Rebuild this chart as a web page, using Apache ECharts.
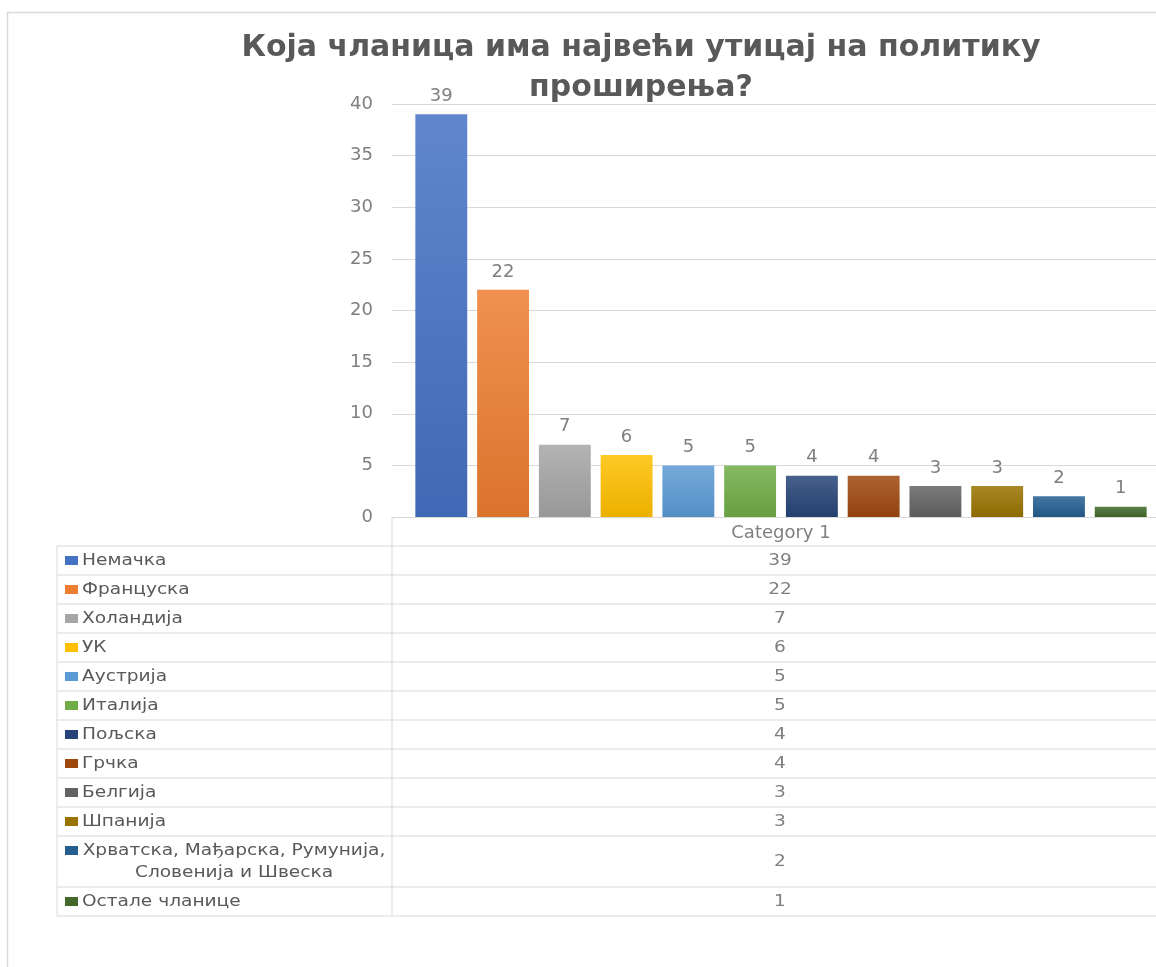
<!DOCTYPE html>
<html>
<head>
<meta charset="utf-8">
<script src="https://cdn.jsdelivr.net/npm/echarts@6/dist/echarts.min.js"></script>
<style>
  html, body { margin: 0; padding: 0; background: #ffffff; overflow: hidden; }
  #chart { width: 1200px; height: 967px; }
</style>
</head>
<body>
<div id="chart"></div>
<script>
// ---- data ----
const categories = ['Category 1'];
const seriesNames = [
  'Немачка', 'Француска', 'Холандија', 'УК', 'Аустрија', 'Италија',
  'Пољска', 'Грчка', 'Белгија', 'Шпанија',
  'Хрватска, Мађарска, Румунија,\nСловенија и Швеска', 'Остале чланице'
];
const values = [39, 22, 7, 6, 5, 5, 4, 4, 3, 3, 2, 1];
const titleLines = ['Која чланица има највећи утицај на политику', 'проширења?'];
const yTicks = [0, 5, 10, 15, 20, 25, 30, 35, 40];

// ---- palette ----
const palette = ['#4472C4', '#ED7D31', '#A5A5A5', '#FFC000', '#5B9BD5', '#70AD47',
                 '#264478', '#9E480E', '#636363', '#997300', '#255E91', '#43682B'];

function mix(hex, target, t) {
  const a = parseInt(hex.slice(1), 16), b = parseInt(target.slice(1), 16);
  const r = Math.round(((a >> 16) & 255) * (1 - t) + ((b >> 16) & 255) * t);
  const g = Math.round(((a >> 8) & 255) * (1 - t) + ((b >> 8) & 255) * t);
  const bl = Math.round((a & 255) * (1 - t) + (b & 255) * t);
  return 'rgb(' + r + ',' + g + ',' + bl + ')';
}

const FONT = 'DejaVu Sans';
const textColor = '#595959';
const axisColor = '#7f7f7f';
const lineColor = '#d9d9d9';
const SX = 1.16; // horizontal text stretch of the table text

const chart = echarts.init(document.getElementById('chart'));

const gridLeft = 392, gridTop = 104, gridHeight = 413, gridWidth = 778;

const series = seriesNames.map((name, i) => ({
  name: name,
  type: 'bar',
  data: [values[i]],
  barGap: '19%',
  barCategoryGap: '6%',
  itemStyle: {
    color: new echarts.graphic.LinearGradient(0, 0, 0, 1, [
      { offset: 0, color: mix(palette[i], '#ffffff', 0.15) },
      { offset: 1, color: mix(palette[i], '#000000', 0.08) }
    ])
  },
  label: {
    show: true,
    position: 'top',
    distance: 9,
    color: axisColor,
    fontFamily: FONT,
    fontSize: 18
  }
}));

// ---- data table built from the arrays ----
const graphics = [];
const tableLeft = 57, sepX = gridLeft, bodyTop = gridTop + gridHeight + 29;
const rowH = 29, extraLine = 22, valueX = 780, tableRight = 1300;
function txt(s, x, y, align, fill) {
  return { type: 'text', x: x, y: y, scaleX: SX, style: {
    text: s, x: 0, y: 0, align: align, verticalAlign: 'middle',
    fill: fill, font: '16px "' + FONT + '"', lineHeight: extraLine } };
}
let y = bodyTop;
graphics.push({ type: 'line', shape: { x1: tableLeft, y1: y, x2: tableRight, y2: y },
  style: { stroke: lineColor, lineWidth: 1 } });
seriesNames.forEach((name, i) => {
  const nLines = name.split('\n').length;
  const h = rowH + (nLines - 1) * extraLine;
  const cy = y + h / 2;
  if (nLines > 1) {
    const firstCy = cy - extraLine / 2;
    graphics.push({ type: 'rect', shape: { x: 65, y: firstCy - 4.5, width: 13, height: 9 },
      style: { fill: palette[i] } });
    graphics.push(txt(name, 234, cy, 'center', textColor));
  } else {
    graphics.push({ type: 'rect', shape: { x: 65, y: cy - 4.5, width: 13, height: 9 },
      style: { fill: palette[i] } });
    graphics.push(txt(name, 82, cy, 'left', textColor));
  }
  graphics.push(txt(String(values[i]), valueX, cy, 'center', axisColor));
  y += h;
  graphics.push({ type: 'line', shape: { x1: tableLeft, y1: y, x2: tableRight, y2: y },
    style: { stroke: lineColor, lineWidth: 1 } });
});
graphics.push({ type: 'line', shape: { x1: tableLeft, y1: bodyTop, x2: tableLeft, y2: y },
  style: { stroke: lineColor, lineWidth: 1 } });
graphics.push({ type: 'line', shape: { x1: sepX, y1: gridTop + gridHeight, x2: sepX, y2: y },
  style: { stroke: lineColor, lineWidth: 1 } });
// chart area border
graphics.push({ type: 'rect', shape: { x: 7.5, y: 12.5, width: 1300, height: 1100 },
  style: { fill: 'none', stroke: '#d9d9d9', lineWidth: 1.5 }, z: -1 });

chart.setOption({
  backgroundColor: '#ffffff',
  animation: false,
  title: {
    text: titleLines.join('\n'),
    left: 636,
    top: 23,
    textAlign: 'center',
    textStyle: {
      fontFamily: FONT,
      fontWeight: 'bold',
      fontSize: 30,
      color: textColor,
      lineHeight: 40
    }
  },
  grid: { left: gridLeft, top: gridTop, height: gridHeight, width: gridWidth, containLabel: false },
  xAxis: {
    type: 'category',
    data: categories,
    axisLine: { show: true, lineStyle: { color: lineColor } },
    axisTick: { show: false },
    axisLabel: { color: axisColor, fontFamily: FONT, fontSize: 18, margin: 7 }
  },
  yAxis: {
    type: 'value',
    min: yTicks[0],
    max: yTicks[yTicks.length - 1],
    interval: yTicks[1] - yTicks[0],
    axisLine: { show: false },
    axisTick: { show: false },
    splitLine: { lineStyle: { color: lineColor } },
    axisLabel: { color: axisColor, fontFamily: FONT, fontSize: 18, margin: 19 }
  },
  series: series,
  graphic: graphics
});
</script>
</body>
</html>
